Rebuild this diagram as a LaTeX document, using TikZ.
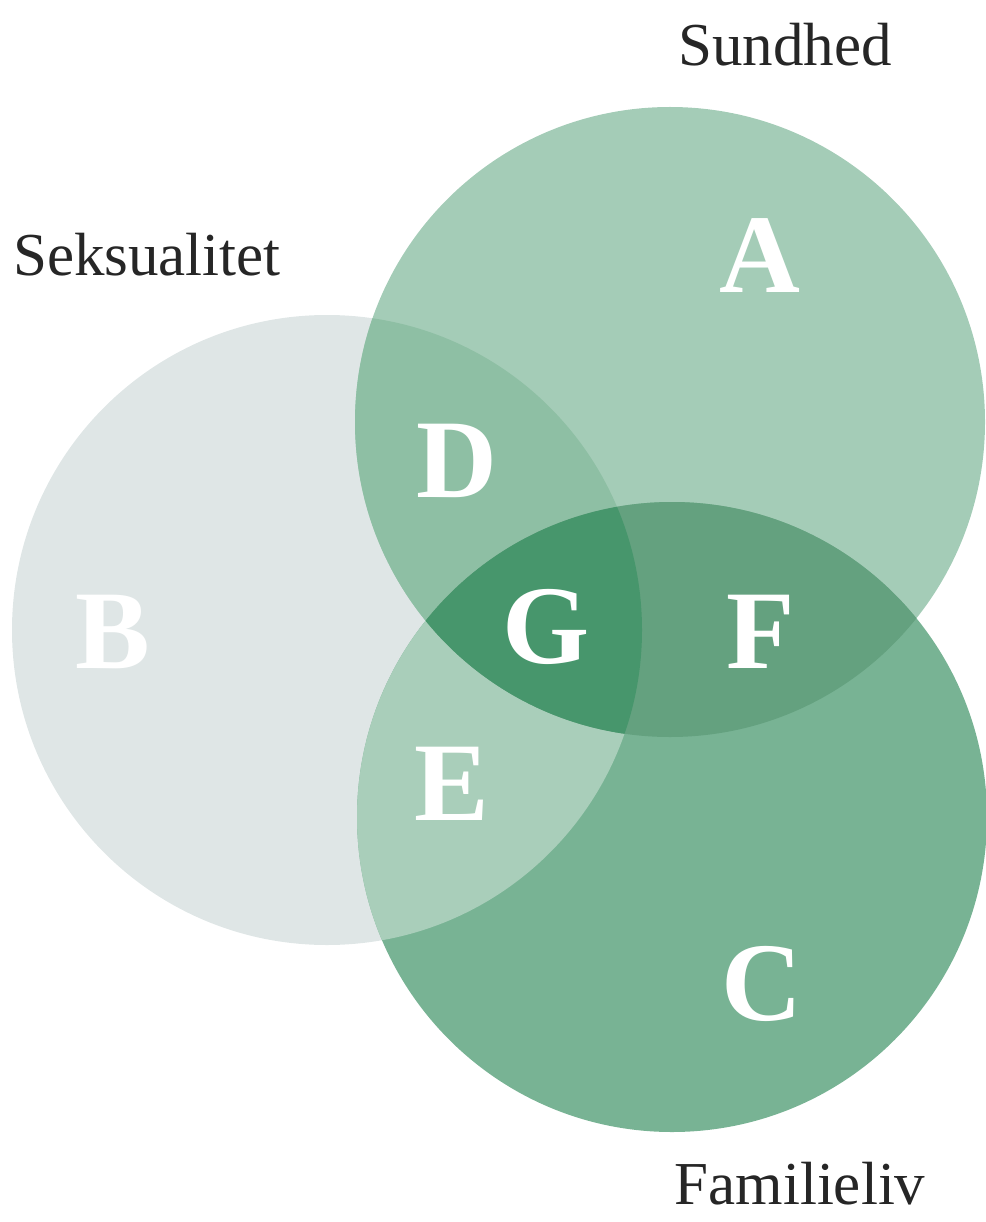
\documentclass[tikz,border=0pt]{standalone}
\usepackage{fontspec}
\setmainfont{Liberation Serif}
\usepackage{xcolor}
\usetikzlibrary{positioning}

\definecolor{sekgray}{HTML}{DFE6E6}
\definecolor{sundgreen}{HTML}{A4CCB7}
\definecolor{famgreen}{HTML}{78B394}
\definecolor{sdgreen}{HTML}{8EBFA4}
\definecolor{sfgreen}{HTML}{A9CEBA}
\definecolor{fmgreen}{HTML}{64A17F}
\definecolor{allgreen}{HTML}{47966C}

\begin{document}
\begin{tikzpicture}[x=1pt, y=-1pt]
    \tikzstyle{title} = [font=\fontsize{61}{64}\selectfont, text=black!85, inner sep=0, anchor=base]
    \tikzstyle{region} = [font=\fontsize{112}{112}\selectfont\bfseries, text=white, inner sep=0, anchor=base]
    \def\rad{315}

    \useasboundingbox (0,0) rectangle (985,1222);

    % circle centres
    \coordinate (sek) at (327,630);
    \coordinate (sund) at (670,422);
    \coordinate (fam) at (672,817);

    % single circles
    \fill [sekgray] (sek) circle (\rad);
    \fill [sundgreen] (sund) circle (\rad);
    \fill [famgreen] (fam) circle (\rad);

    % overlaps
    \begin{scope}
        \clip (sek) circle (\rad);
        \fill [sdgreen] (sund) circle (\rad);
        \fill [sfgreen] (fam) circle (\rad);
    \end{scope}
    \begin{scope}
        \clip (sund) circle (\rad);
        \fill [fmgreen] (fam) circle (\rad);
        \clip (sek) circle (\rad);
        \fill [allgreen] (fam) circle (\rad);
    \end{scope}

    % titles
    \node [title] (sundt) at (785,66) {Sundhed};
    \node [title] (sekt) at (147,276) {Seksualitet};
    \node [title] (famt) at (800,1204) {Familieliv};

    % region letters
    \node [region] (a) at (760,292) {A};
    \node [region] (b) at (113,668) {B};
    \node [region] (c) at (762,1020) {C};
    \node [region] (d) at (457,497) {D};
    \node [region] (e) at (452,820) {E};
    \node [region] (f) at (761,668) {F};
    \node [region] (g) at (546,663) {G};
\end{tikzpicture}
\end{document}
